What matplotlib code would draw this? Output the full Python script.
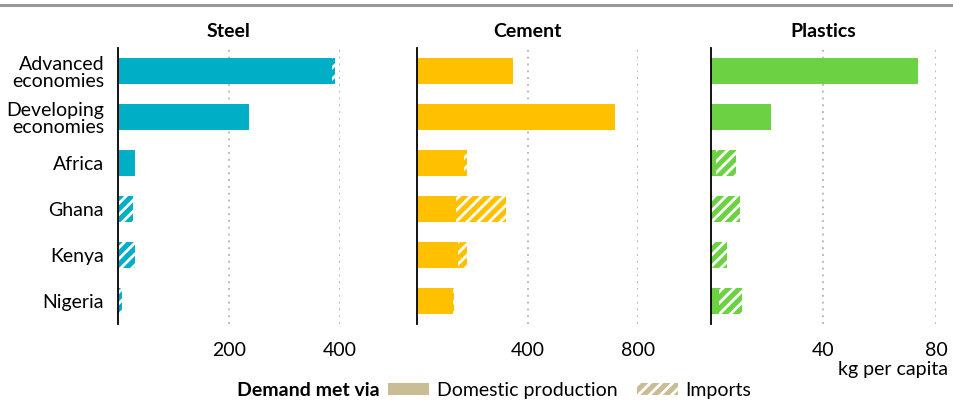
import matplotlib.pyplot as plt
from matplotlib.patches import Patch

plt.rcParams["font.family"] = ["Lato", "DejaVu Sans"]
plt.rcParams["hatch.linewidth"] = 2.0

# data (kg per capita)
categories = ["Advanced\neconomies", "Developing\neconomies", "Africa", "Ghana", "Kenya", "Nigeria"]

steel_domestic = [385, 236, 30, 0, 0, 0]
steel_imports = [6, 0, 0, 27, 31, 7]

cement_domestic = [345, 714, 168, 140, 148, 128]
cement_imports = [0, 0, 13, 179, 30, 5]

plastics_domestic = [73.7, 21.4, 1.8, 0, 0, 2.9]
plastics_imports = [0, 0, 7.4, 10.3, 5.7, 8.1]

panels = [
    ("Steel", steel_domestic, steel_imports, "#00AFC6", 400, [200, 400]),
    ("Cement", cement_domestic, cement_imports, "#FFC000", 800, [400, 800]),
    ("Plastics", plastics_domestic, plastics_imports, "#6DD144", 80, [40, 80]),
]

lefts = [0.1237, 0.4376, 0.7448]
widths = [0.2327, 0.2315, 0.2365]
fs = 14

fig = plt.figure(figsize=(9.54, 4.01), dpi=100)

# top rule
fig.add_artist(plt.Line2D([0, 1], [0.988, 0.988], color="#999999", lw=2.2))

ypos = list(range(len(categories)))

for i, (title, dom, imp, color, xmax, ticks) in enumerate(panels):
    ax = fig.add_axes([lefts[i], 0.192, widths[i], 0.688])
    ax.barh(ypos, dom, height=0.57, color=color, linewidth=0)
    ax.barh(ypos, imp, left=dom, height=0.57, facecolor=color,
            edgecolor="white", hatch="///", linewidth=0)
    ax.set_xlim(0, xmax)
    ax.set_ylim(len(categories) - 0.5, -0.5)
    ax.set_xticks(ticks)
    ax.set_xticklabels([str(t) for t in ticks], fontsize=fs)
    ax.tick_params(axis="x", length=0, pad=13)
    ax.tick_params(axis="y", length=0, pad=10)
    if i == 0:
        ax.set_yticks(ypos)
        ax.set_yticklabels(categories, fontsize=fs, linespacing=1.0)
    else:
        ax.set_yticks([])
    for s in ["top", "right", "bottom"]:
        ax.spines[s].set_visible(False)
    ax.spines["left"].set_color("black")
    ax.spines["left"].set_linewidth(1.3)
    ax.grid(axis="x", color="#BBBBBB", linestyle=(0, (1, 2.5)), linewidth=1.4)
    ax.set_axisbelow(True)
    ax.set_title(title, fontsize=fs, fontweight="bold", pad=8)

fig.text(0.994, 0.078, "kg per capita", ha="right", va="center", fontsize=fs)

# legend
fig.text(0.398, 0.027, "Demand met via", ha="right", va="center",
         fontsize=fs, fontweight="bold")
handles = [
    Patch(facecolor="#C8BD94", linewidth=0, label="Domestic production"),
    Patch(facecolor="#C8BD94", edgecolor="white", hatch="///", linewidth=0, label="Imports"),
]
fig.legend(handles=handles, loc="center left", bbox_to_anchor=(0.407, 0.027),
           ncol=2, frameon=False, fontsize=fs, handlelength=2.1, handleheight=0.6,
           handletextpad=0.4, columnspacing=1.0, borderaxespad=0, borderpad=0)

fig.savefig("out.png", dpi=100)
